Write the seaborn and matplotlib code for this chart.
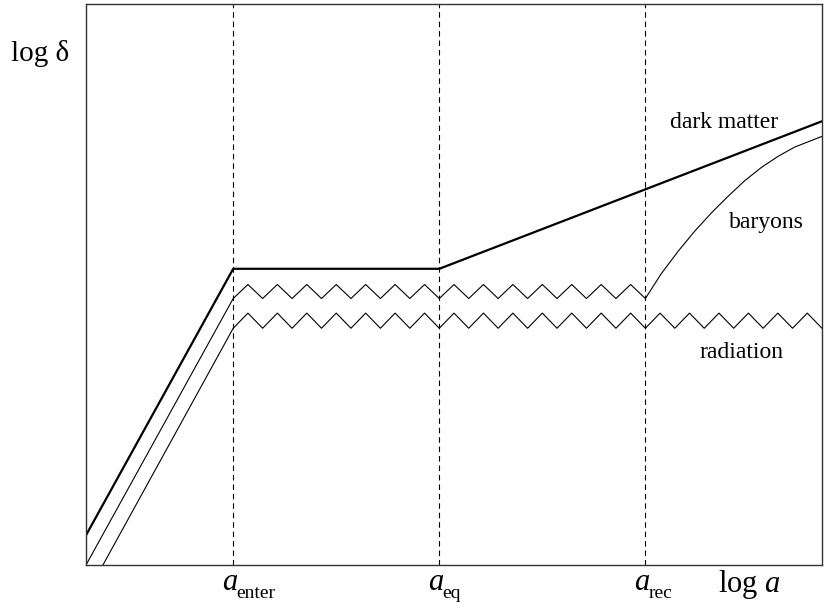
import numpy as np
import pandas as pd
import matplotlib
matplotlib.use("Agg")
import matplotlib.pyplot as plt
import seaborn as sns

# Characteristic epochs on the log a axis
epoch_names = ["enter", "eq", "rec"]
epoch_x = [2.0, 4.8, 7.6]

# Dark matter: growth outside horizon, stagnation, then linear growth
dm_x = [0.0, 2.0, 4.8, 10.0]
dm_y = [0.53, 5.28, 5.28, 7.91]

# Baryons: rise, acoustic oscillation until recombination, then fall into DM wells
bar_rise_x = [0.0, 2.0]
bar_rise_y = [0.0, 4.75]
bar_osc_low, bar_osc_high = 4.75, 5.0
bar_osc_cycles = 14
bar_late_x = [7.6, 7.82, 8.05, 8.27, 8.5, 8.73, 8.95, 9.18, 9.41, 9.63, 10.0]
bar_late_y = [4.75, 5.2, 5.6, 5.95, 6.28, 6.58, 6.85, 7.09, 7.29, 7.45, 7.64]

# Radiation: rise, then oscillation forever
rad_rise_x = [0.23, 2.0]
rad_rise_y = [0.0, 4.22]
rad_osc_low, rad_osc_high = 4.22, 4.49
rad_osc_cycles = 20


def zigzag(x0, x1, low, high, cycles):
    xs = np.linspace(x0, x1, 2 * cycles + 1)
    ys = np.where(np.arange(xs.size) % 2 == 0, low, high)
    return xs, ys


bx_osc, by_osc = zigzag(epoch_x[0], epoch_x[2], bar_osc_low, bar_osc_high, bar_osc_cycles)
rx_osc, ry_osc = zigzag(epoch_x[0], 10.0, rad_osc_low, rad_osc_high, rad_osc_cycles)

dm = pd.DataFrame({"x": dm_x, "y": dm_y})
baryons = pd.DataFrame({
    "x": np.concatenate([bar_rise_x, bx_osc[1:], bar_late_x[1:]]),
    "y": np.concatenate([bar_rise_y, by_osc[1:], bar_late_y[1:]]),
})
radiation = pd.DataFrame({
    "x": np.concatenate([rad_rise_x, rx_osc[1:]]),
    "y": np.concatenate([rad_rise_y, ry_osc[1:]]),
})

sns.set_theme(style="white")
plt.rcParams["font.family"] = ["Liberation Serif", "DejaVu Serif"]
plt.rcParams["text.color"] = "black"
plt.rcParams["mathtext.fontset"] = "custom"
plt.rcParams["mathtext.rm"] = "Liberation Serif"
plt.rcParams["mathtext.it"] = "Liberation Serif:italic"

fig = plt.figure(figsize=(8.31, 6.04), dpi=100)
ax = fig.add_axes([86 / 831, 39 / 604, 736 / 831, 561 / 604])

for xe in epoch_x:
    ax.axvline(xe, color="black", lw=0.8, dashes=(5, 3.5), zorder=1)

kw = dict(ax=ax, x="x", y="y", sort=False, estimator=None, color="black", legend=False)
sns.lineplot(data=dm, lw=1.6, **kw)
sns.lineplot(data=baryons, lw=0.8, **kw)
sns.lineplot(data=radiation, lw=0.8, **kw)

ax.set_xlim(0, 10)
ax.set_ylim(0, 10)
ax.set_xticks([])
ax.set_yticks([])
ax.set_xlabel("")
ax.set_ylabel("")
for sp in ax.spines.values():
    sp.set_color("#333333")
    sp.set_linewidth(1.0)
    sp.set_visible(True)

ax.text(8.675, 7.79, "dark matter", ha="center", va="baseline", fontsize=17, color="black")
ax.text(9.246, 6.01, "baryons", ha="center", va="baseline", fontsize=17, color="black")
ax.text(8.906, 3.69, "radiation", ha="center", va="baseline", fontsize=17, color="black")

# epoch labels: large italic a with a smaller upright subscript
for name, xe in zip(epoch_names, epoch_x):
    ax.annotate(r"$a$", xy=(xe, 0), xycoords=("data", "axes fraction"),
                xytext=(-8, -18), textcoords="offset points",
                ha="left", va="baseline", fontsize=22, color="black")
    ax.annotate(name, xy=(xe, 0), xycoords=("data", "axes fraction"),
                xytext=(2.4, -23.6), textcoords="offset points",
                ha="left", va="baseline", fontsize=14, color="black")

ax.annotate(r"log $a$", xy=(1, 0), xycoords="axes fraction",
            xytext=(-75, -19.3), textcoords="offset points",
            ha="left", va="baseline", fontsize=22, color="black")
fig.text(11 / 831, 1 - 61 / 604, "log δ", ha="left", va="baseline", fontsize=21, color="black")

fig.savefig("out.png", dpi=100)
